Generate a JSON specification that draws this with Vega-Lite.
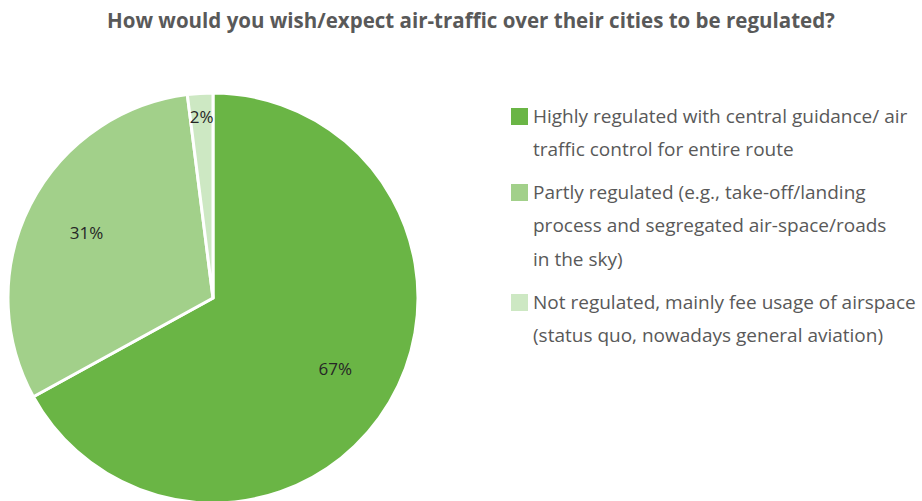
{
  "$schema": "https://vega.github.io/schema/vega-lite/v6.json",
  "autosize": {"type": "none"},
  "width": 410,
  "height": 410,
  "padding": {"left": 8, "top": 93, "right": 504, "bottom": 0},
  "background": "white",
  "config": {
    "style": {"guide-label": {"lineHeight": 33.5}}
  },
  "title": {
    "text": "How would you wish/expect air-traffic over their cities to be regulated?",
    "font": "Open Sans",
    "fontSize": 20.5,
    "fontWeight": "bold",
    "color": "#595959",
    "anchor": "middle",
    "dx": 258,
    "offset": 55
  },
  "data": {
    "values": [
      {"category": "Highly regulated with central guidance/ air|traffic control for entire route", "value": 67, "label": "67%"},
      {"category": "Partly regulated (e.g., take-off/landing|process and segregated air-space/roads|in the sky)", "value": 31, "label": "31%"},
      {"category": "Not regulated, mainly fee usage of airspace|(status quo, nowadays general aviation)", "value": 2, "label": "2%"}
    ]
  },
  "encoding": {
    "theta": {"field": "value", "type": "quantitative", "stack": true},
    "order": {"field": "value", "sort": "descending"}
  },
  "layer": [
    {
      "mark": {"type": "arc", "stroke": "white", "strokeWidth": 3},
      "encoding": {
        "color": {
          "field": "category",
          "type": "nominal",
          "sort": null,
          "scale": {
            "domain": [
              "Highly regulated with central guidance/ air|traffic control for entire route",
              "Partly regulated (e.g., take-off/landing|process and segregated air-space/roads|in the sky)",
              "Not regulated, mainly fee usage of airspace|(status quo, nowadays general aviation)"
            ],
            "range": ["#6ab545", "#a2d08a", "#cde8c3"]
          },
          "legend": {
            "title": null,
            "orient": "none",
            "legendX": 502,
            "legendY": 14,
            "symbolType": "square",
            "symbolSize": 289,
            "symbolStrokeWidth": 0,
            "labelFont": "Open Sans",
            "labelFontSize": 19,
            "labelColor": "#595959",
            "labelOffset": 4,
            "labelLimit": 500,
            "rowPadding": 23,
            "labelExpr": "split(datum.label, '|')"
          }
        }
      }
    },
    {
      "mark": {
        "type": "text",
        "font": "Open Sans",
        "fontSize": 17,
        "radius": {"expr": "datum.value < 5 ? 180 : 142"}
      },
      "encoding": {
        "text": {"field": "label"},
        "color": {"value": "#262626"}
      }
    }
  ]
}
